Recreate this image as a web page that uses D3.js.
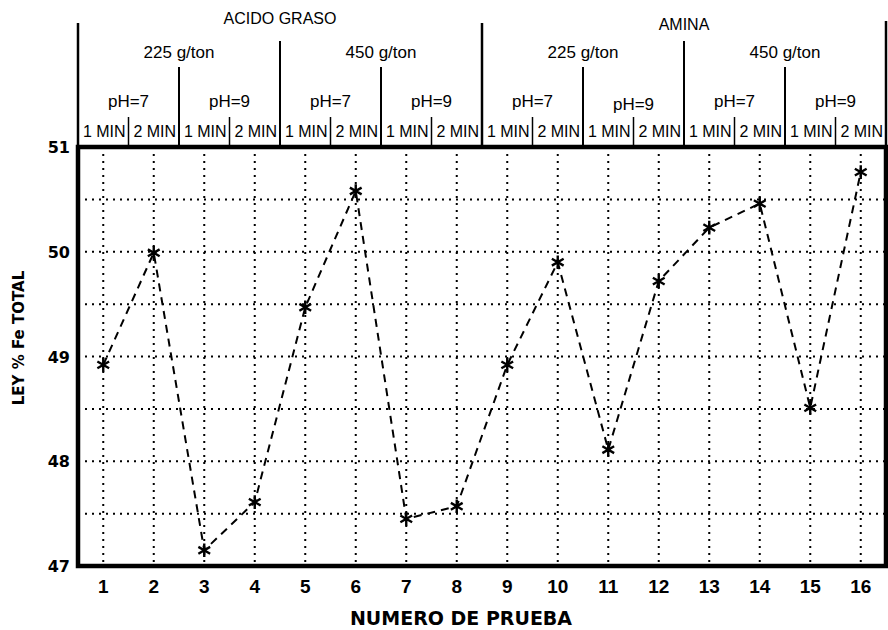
<!DOCTYPE html>
<html>
<head>
<meta charset="utf-8">
<script src="https://cdn.jsdelivr.net/npm/d3@7"></script>
<style>
  body { margin: 0; background: #fff; }
  svg { display: block; }
  .hdr { font-family: "Liberation Sans", Arial, sans-serif; font-size: 16px; fill: #000; }
  .bold { font-family: "DejaVu Sans", sans-serif; font-weight: bold; fill: #000; }
  .tick { font-family: "Liberation Sans", Arial, sans-serif; font-weight: bold; fill: #000; }
</style>
</head>
<body>
<div id="chart"></div>
<script>
// Data
const tests = [1, 2, 3, 4, 5, 6, 7, 8, 9, 10, 11, 12, 13, 14, 15, 16];
const ley = [48.92, 49.99, 47.15, 47.61, 49.47, 50.58, 47.45, 47.57,
             48.92, 49.90, 48.11, 49.72, 50.23, 50.46, 48.51, 50.76];
const yTicks = [47, 48, 49, 50, 51];
const collectors = ["ACIDO GRASO", "AMINA"];
const doses = ["225 g/ton", "450 g/ton"];
const phs = ["pH=7", "pH=9"];
const times = ["1 MIN", "2 MIN"];

const W = 888, H = 630;
const plotLeft = 78, plotRight = 886, plotTop = 147, plotBottom = 566;

const svg = d3.select("#chart").append("svg")
    .attr("width", W)
    .attr("height", H);

const x = d3.scaleLinear().domain([0.5, 16.5]).range([plotLeft, plotRight]);
const y = d3.scaleLinear().domain([47, 51]).range([plotBottom, plotTop]);

// dotted grid
const grid = svg.append("g")
    .attr("stroke", "#000")
    .attr("stroke-width", 2)
    .attr("stroke-dasharray", "2,5");

grid.selectAll(".vg")
    .data(tests)
    .enter().append("line")
    .attr("x1", d => x(d)).attr("x2", d => x(d))
    .attr("y1", plotTop).attr("y2", plotBottom);

grid.selectAll(".hg")
    .data(d3.range(47.5, 51, 0.5))
    .enter().append("line")
    .attr("x1", plotLeft).attr("x2", plotRight)
    .attr("y1", d => y(d)).attr("y2", d => y(d));

// header: dividers between the test groups
const header = svg.append("g").attr("stroke", "#000").attr("stroke-width", 2);

function divider(xv, y1, w) {
    header.append("line")
        .attr("x1", x(xv)).attr("x2", x(xv))
        .attr("y1", y1).attr("y2", plotTop)
        .attr("stroke-width", w || 2);
}

tests.forEach(t => {
    const edge = t + 0.5;
    if (edge === 16.5) return;
    if (edge % 8 === 0.5) divider(edge, 23, 2.5);
    else if (edge % 4 === 0.5) divider(edge, 41, 2);
    else if (edge % 2 === 0.5) divider(edge, 67, 2);
    else divider(edge, 117, 1.5);
});
divider(0.5, 23, 2.5);
divider(16.5, 21, 2.5);

// header labels
const lab = svg.append("g").attr("class", "hdr").attr("text-anchor", "middle");

collectors.forEach((c, i) => {
    lab.append("text")
        .attr("x", x(4.5 + i * 8))
        .attr("y", i === 0 ? 24 : 30)
        .text(c);
});

for (let i = 0; i < 4; i++) {
    lab.append("text")
        .attr("x", x(2.5 + i * 4))
        .attr("y", 58)
        .style("font-size", "17px")
        .text(doses[i % 2]);
}

for (let i = 0; i < 8; i++) {
    lab.append("text")
        .attr("x", x(1.5 + i * 2))
        .attr("y", i === 5 ? 110 : 107)
        .style("font-size", "17px")
        .text(phs[i % 2]);
}

tests.forEach((t, i) => {
    lab.append("text")
        .attr("x", x(t) + 1)
        .attr("y", 137)
        .style("font-size", "16px")
        .text(times[i % 2]);
});

// frame
svg.append("rect")
    .attr("x", plotLeft).attr("y", plotTop)
    .attr("width", plotRight - plotLeft).attr("height", plotBottom - plotTop)
    .attr("fill", "none")
    .attr("stroke", "#000")
    .attr("stroke-width", 4.5);

// axes labels
svg.append("g").selectAll("text")
    .data(yTicks)
    .enter().append("text")
    .attr("class", "bold")
    .attr("x", 70)
    .attr("y", d => y(d) + 6)
    .attr("text-anchor", "end")
    .style("font-size", "16px")
    .text(d => d);

svg.append("g").selectAll("text")
    .data(tests)
    .enter().append("text")
    .attr("class", "tick")
    .attr("x", d => x(d))
    .attr("y", 593)
    .attr("text-anchor", "middle")
    .style("font-size", "19px")
    .text(d => d);

svg.append("text")
    .attr("class", "bold")
    .attr("x", 461)
    .attr("y", 625)
    .attr("text-anchor", "middle")
    .style("font-size", "19px")
    .text("NUMERO DE PRUEBA");

svg.append("text")
    .attr("class", "bold")
    .attr("transform", "translate(24,338) rotate(-90)")
    .attr("text-anchor", "middle")
    .style("font-size", "15px")
    .text("LEY % Fe TOTAL");

// dashed series line
const line = d3.line()
    .x((d, i) => x(tests[i]))
    .y(d => y(d));

svg.append("path")
    .datum(ley)
    .attr("d", line)
    .attr("fill", "none")
    .attr("stroke", "#000")
    .attr("stroke-width", 2)
    .attr("stroke-dasharray", "8,6");

// asterisk markers
svg.append("g").selectAll("path")
    .data(ley)
    .enter().append("path")
    .attr("transform", (d, i) => `translate(${x(tests[i])},${y(d)})`)
    .attr("d", d3.symbol().type(d3.symbolAsterisk).size(130))
    .attr("fill", "none")
    .attr("stroke", "#000")
    .attr("stroke-width", 2.4);
</script>
</body>
</html>
